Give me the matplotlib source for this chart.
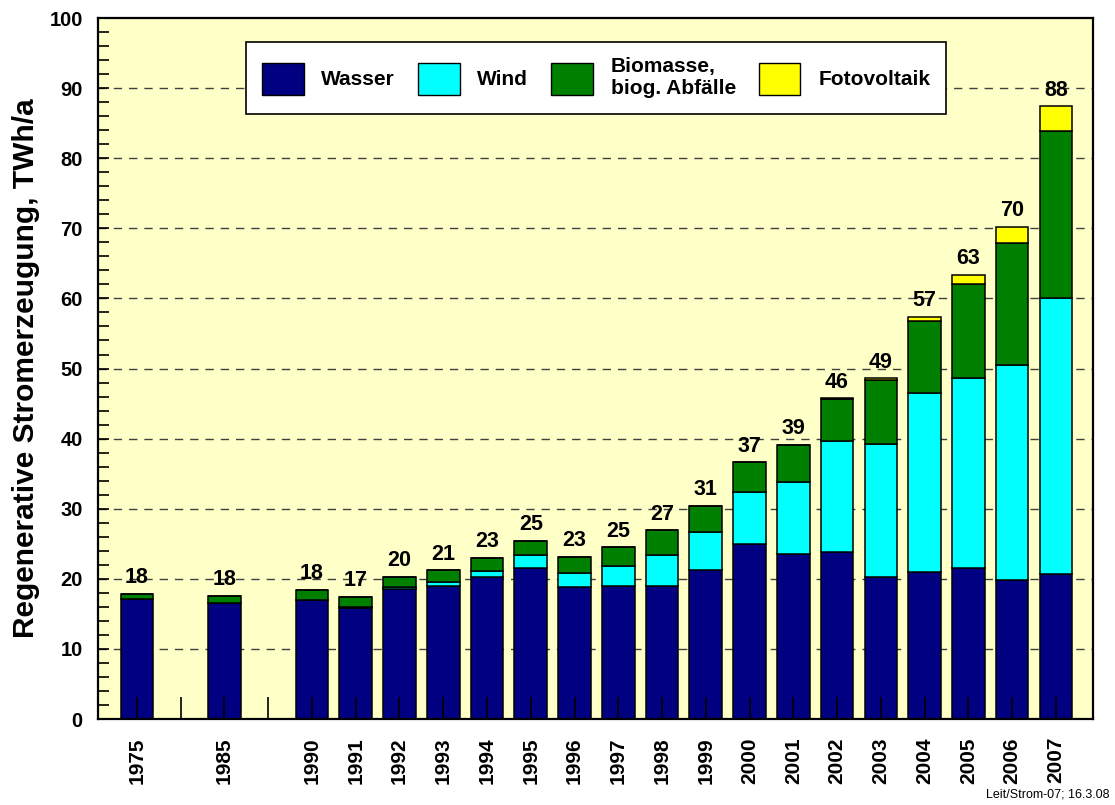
import matplotlib
matplotlib.use("Agg")
import matplotlib.pyplot as plt
from matplotlib.patches import Patch
from matplotlib.ticker import MultipleLocator

plt.rcParams['font.family'] = ['Liberation Sans', 'DejaVu Sans']

# Kategorien (leere Felder = Luecken auf der x-Achse)
slots = ['1975', '', '1985', '', '1990', '1991', '1992', '1993', '1994', '1995',
         '1996', '1997', '1998', '1999', '2000', '2001', '2002', '2003', '2004',
         '2005', '2006', '2007']

# Werte in TWh/a, je Jahr (ohne Luecken)
wasser = [17.1, 16.5, 17.0, 15.9, 18.6, 19.0, 20.3, 21.6, 18.8, 19.0, 19.0, 21.3,
          24.9, 23.5, 23.8, 20.3, 21.0, 21.5, 19.9, 20.7]
wind = [0.0, 0.0, 0.05, 0.1, 0.2, 0.6, 0.8, 1.75, 2.1, 2.9, 4.4, 5.45,
        7.5, 10.35, 15.8, 18.9, 25.45, 27.1, 30.6, 39.4]
biomasse = [0.8, 1.05, 1.35, 1.45, 1.5, 1.6, 1.9, 2.05, 2.25, 2.6, 3.5, 3.7,
            4.2, 5.2, 6.05, 9.1, 10.35, 13.5, 17.45, 23.8]
fotovoltaik = [0.0, 0.0, 0.0, 0.0, 0.0, 0.0, 0.0, 0.0, 0.0, 0.0, 0.0, 0.0,
               0.0, 0.1, 0.1, 0.3, 0.55, 1.3, 2.25, 3.5]
summe_label = ['18', '18', '18', '17', '20', '21', '23', '25', '23', '25', '27', '31',
               '37', '39', '46', '49', '57', '63', '70', '88']

farben = ['#000080', '#00FFFF', '#008000', '#FFFF00']
namen = ['Wasser', 'Wind', 'Biomasse,\nbiog. Abfälle', 'Fotovoltaik']

pos = [i for i, s in enumerate(slots) if s]

fig = plt.figure(figsize=(11.15, 8.05), dpi=100)
ax = fig.add_axes([0.0879, 0.1068, 0.8924, 0.8708])
ax.set_facecolor('#FFFFC8')

breite = 0.745
unten = [0.0] * len(pos)
for werte, farbe in zip([wasser, wind, biomasse, fotovoltaik], farben):
    ax.bar(pos, werte, breite, bottom=unten, color=farbe, edgecolor='black',
           linewidth=1.1, zorder=2)
    unten = [u + w for u, w in zip(unten, werte)]

for x, y, t in zip(pos, unten, summe_label):
    ax.text(x, y + 0.8, t, ha='center', va='bottom', fontsize=15.5,
            fontweight='bold', zorder=5)

ax.set_xlim(-0.89, 21.85)
ax.set_ylim(0, 100)
ax.set_xticks(range(len(slots)))
ax.set_xticklabels(slots, rotation=90, fontsize=15, fontweight='bold')
ax.tick_params(axis='x', direction='in', length=16, width=1.2, pad=13)
ax.yaxis.set_major_locator(MultipleLocator(10))
ax.yaxis.set_minor_locator(MultipleLocator(2))
ax.tick_params(axis='y', which='both', direction='in', length=8, width=1.2, pad=11)
for lab in ax.get_yticklabels():
    lab.set_fontsize(14.5)
    lab.set_fontweight('bold')
ax.set_axisbelow(False)

for yv in range(10, 100, 10):
    ax.axhline(yv, color='#404040', linewidth=1.0, dashes=(6, 5), zorder=1)

for sp in ax.spines.values():
    sp.set_linewidth(1.6)
    sp.set_zorder(6)

ax.set_ylabel('Regenerative Stromerzeugung, TWh/a', fontsize=21.5, fontweight='bold')
ax.yaxis.set_label_coords(-0.058, 0.5)

handles = [Patch(facecolor=f, edgecolor='black', linewidth=1.0) for f in farben]
leg = ax.legend(handles, namen, loc='upper center', bbox_to_anchor=(0.5006, 0.966),
                ncol=4, fancybox=False, framealpha=1, edgecolor='black',
                prop={'family': ['Liberation Sans', 'DejaVu Sans'], 'weight': 'bold', 'size': 15},
                handlelength=2.0, handleheight=2.0, handletextpad=0.85,
                columnspacing=1.1, borderpad=0.75, borderaxespad=0)
leg.get_frame().set_linewidth(1.2)
leg.set_zorder(7)

fig.text(0.9955, 0.006, 'Leit/Strom-07; 16.3.08', ha='right', va='bottom', fontsize=9)

fig.savefig('out.png', dpi=100)
